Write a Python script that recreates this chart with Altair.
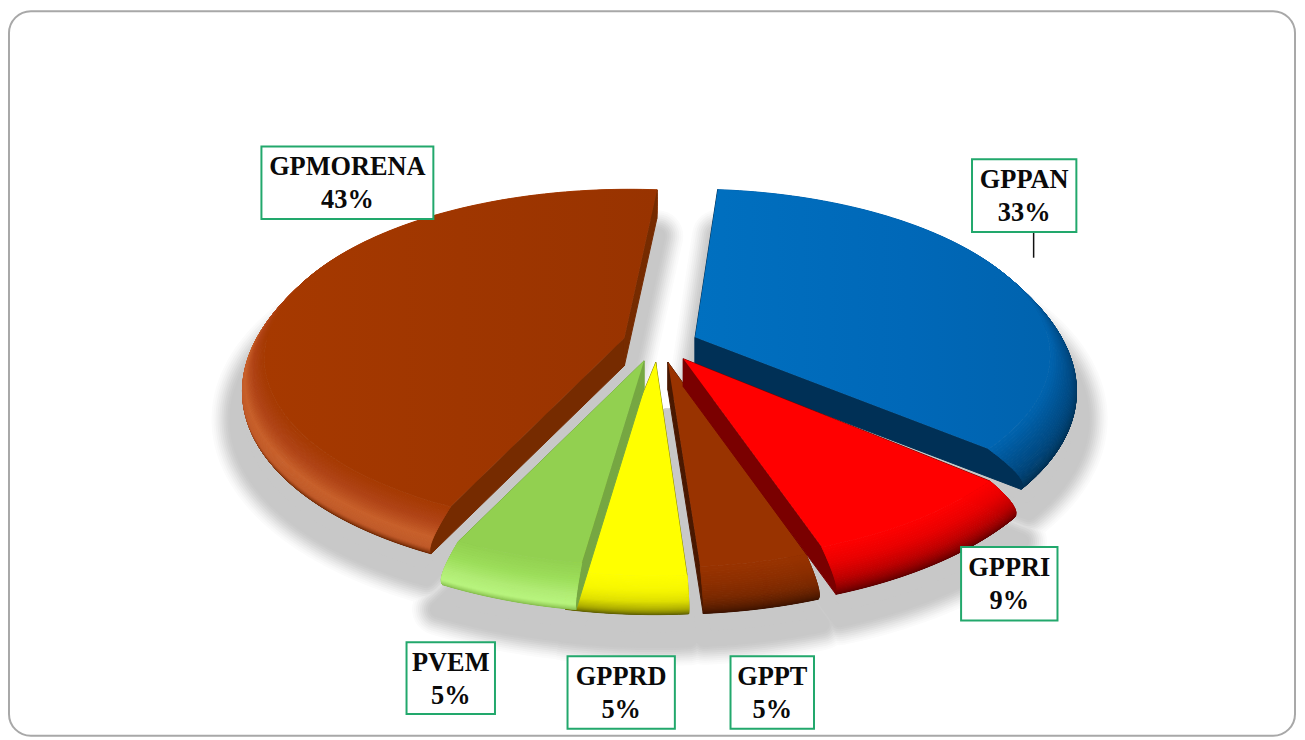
import math
import altair as alt
import pandas as pd

# ---- chart values ----
parties = ["GPPAN", "GPPRI", "GPPT", "GPPRD", "PVEM", "GPMORENA"]
shares = [33, 9, 5, 5, 5, 43]
share_labels = ["33%", "9%", "5%", "5%", "5%", "43%"]

# ---- styles ----
top_fill = ["#0068b8", "#ff0000", "#993300", "#ffff00", "#92d050", "#9c3500"]
wall_fill = ["#003056", "#7a0000", "#4a1800", "#8a8a00", "#76a742", "#762b00"]
rim_stops = [
    ["#002a4c", "#003760", "#00467c", "#005494", "#0064b0"],
    ["#5a0000", "#8a0000", "#c00000", "#e80000", "#ff0000"],
    ["#3a1200", "#5a1d00", "#7a2800", "#8c2e00", "#993300"],
    ["#5c5c00", "#a8a800", "#e0e000", "#f8f800", "#ffff00"],
    ["#84bc4c", "#b8f57e", "#b0ec74", "#9cde5a", "#92d050"],
    ["#6a2400", "#c05a28", "#c8602a", "#b04416", "#a43800"],
]
rim_width = [0.13, 0.10, 0.09, 0.06, 0.09, 0.11]
draw_order = [5, 0, 3, 4, 2, 1]
# small view corrections of each slice's two cut directions, in degrees
view_start = [0, -2, 0, 0, -3.5, -3]
view_end = [-2.5, 0, 0, 0, -2, 0]

# ---- projection of the tilted, exploded disc ----
CX, CY, RX, RY = 664, 345, 385, 181
PY, PX, EXPLODE, DEPTH, ROT = 0.185, 0.17, 0.10, 28, 8.0
WARP = 5.0


def screen_angle(a):
    return a - WARP * math.sin(math.radians(2 * (a - 169)))


def project(u, v, z=0.0):
    return (CX + RX * u / (1 - PX * v), CY + RY * v / (1 - PY * v) + z)


def edge(ap, ang, s, rw, zoff=0.0):
    """rim point at data angle ang; s runs 0 (bottom of the rim) .. 1 (top face)"""
    au, av = ap
    t = math.radians(screen_angle(ang))
    v = -math.cos(t)
    front = min(1.0, max(0.0, 0.55 + 0.45 * v))
    r = 1 - rw * front * s ** 2.0 - 0.02 * (1 - s) ** 3
    z = DEPTH * (1 - s)
    return project(au + r * math.sin(t), av - r * math.cos(t), z + zoff)


def arc_angles(a0, a1):
    n = max(8, int((a1 - a0) / 1.5))
    return [a0 + (a1 - a0) * k / n for k in range(n + 1)]


def top_wedge(ap, a0, a1, rw, zoff=0.0, s=1.0):
    return [project(ap[0], ap[1], zoff)] + [edge(ap, a, s, rw, zoff) for a in arc_angles(a0, a1)]


def mix(cols, s):
    pos = s * (len(cols) - 1)
    i = min(int(pos), len(cols) - 2)
    f = pos - i
    a = [int(cols[i][j:j + 2], 16) for j in (1, 3, 5)]
    b = [int(cols[i + 1][j:j + 2], 16) for j in (1, 3, 5)]
    return "#%02x%02x%02x" % tuple(round(x + (y - x) * f) for x, y in zip(a, b))


angles = []
apexes = []
acc = ROT
for n_, s_ in enumerate(shares):
    a_end = acc + s_ * 3.6
    mid_ = math.radians((acc + a_end) / 2)
    apexes.append((EXPLODE * math.sin(mid_), -EXPLODE * math.cos(mid_)))
    angles.append((acc + view_start[n_], a_end + view_end[n_]))
    acc = a_end

XS = alt.Scale(domain=[8, 1305], nice=False, zero=False)
YS = alt.Scale(domain=[741, 9], nice=False, zero=False)
X = alt.X("x:Q", axis=None, scale=XS)
Y = alt.Y("y:Q", axis=None, scale=YS)

counter = [0]


def rows(polys):
    out = []
    for pid, (pts, fill, extra) in enumerate(polys):
        for x, y in pts + pts[:1]:
            counter[0] += 1
            out.append(dict(x=x, y=y, i=counter[0], poly=pid, col=fill, **extra))
    return pd.DataFrame(out)


def solid(polys):
    return (
        alt.Chart(rows([(p, c, {}) for p, c in polys]))
        .mark_line(strokeWidth=1.0, interpolate="linear", strokeJoin="round")
        .encode(
            x=X, y=Y, order="i:Q", detail="poly:N",
            fill=alt.Fill("col:N", scale=None, legend=None),
            stroke=alt.Stroke("col:N", scale=None, legend=None),
        )
    )


# frame
frame = (
    alt.Chart(pd.DataFrame({"x": [9], "x2": [1303], "y": [10], "y2": [739]}))
    .mark_rect(cornerRadius=22, fill="#ffffff", stroke="#a8a8a8", strokeWidth=2)
    .encode(x=X, x2="x2:Q", y=Y, y2="y2:Q")
)

# soft ground shadow: each wedge, dilated by a stroke, from light to dark
shadow_steps = [(52, "#fbfbfb"), (48, "#f7f7f7"), (44, "#f1f1f1"), (40, "#ebebeb"), (36, "#e4e4e4"),
                (32, "#dddddd"), (28, "#d6d6d6"), (24, "#d0d0d0"), (20, "#cbcbcb"), (16, "#c8c8c8")]
shadow_polys = []
for w, c in shadow_steps:
    for ap, (a0, a1) in zip(apexes, angles):
        shadow_polys.append((top_wedge(ap, a0, a1, 0.0, zoff=48, s=1.0), c, {"sw": w}))
shadow = (
    alt.Chart(rows(shadow_polys))
    .mark_line(strokeJoin="round", interpolate="linear")
    .encode(
        x=X, y=Y, order="i:Q", detail="poly:N",
        fill=alt.Fill("col:N", scale=None, legend=None),
        stroke=alt.Stroke("col:N", scale=None, legend=None),
        strokeWidth=alt.StrokeWidth("sw:Q", scale=None, legend=None),
    )
)

layers = [frame, shadow]
for idx in draw_order:
    a0, a1 = angles[idx]
    rw = rim_width[idx]
    ap = apexes[idx]

    # the two cut faces follow the rim profile
    under, over = [], []
    for ang in (a0, a1):
        poly = [project(ap[0], ap[1], 0)]
        for k in range(9):
            poly.append(edge(ap, ang, 1 - k / 8, rw))
        poly.append(project(ap[0], ap[1], DEPTH))
        (over if math.cos(math.radians(ang)) > 0.5 else under).append((poly, wall_fill[idx]))
    layers.append(solid(under))

    # curved rim, painted as thin strips from its bottom to the top face
    strips = []
    N = 30
    arc = arc_angles(a0, a1)
    for k in range(N):
        s0, s1 = k / N, (k + 1) / N
        outer = [edge(ap, a, s0, rw) for a in arc]
        inner = [edge(ap, a, s1, rw) for a in reversed(arc)]
        strips.append((outer + inner, mix(rim_stops[idx], s0)))
    layers.append(solid(strips))
    if over:
        layers.append(solid(over))

    top = top_wedge(ap, a0, a1, rw)
    df = rows([(top, top_fill[idx], {})])
    if idx == 0:
        fill = alt.Gradient(gradient="linear", x1=0, x2=1, y1=0, y2=0,
                            stops=[alt.GradientStop(offset=0, color="#0070c0"),
                                   alt.GradientStop(offset=0.6, color="#0068b8"),
                                   alt.GradientStop(offset=1, color="#0063ae")])
    elif idx == 5:
        fill = alt.Gradient(gradient="linear", x1=0, x2=1, y1=0, y2=0,
                            stops=[alt.GradientStop(offset=0, color="#a63900"),
                                   alt.GradientStop(offset=1, color="#983300")])
    else:
        fill = top_fill[idx]
    layers.append(
        alt.Chart(df).mark_line(fill=fill, strokeOpacity=0).encode(x=X, y=Y, order="i:Q")
    )

# data labels
box_x0 = [978, 967, 735, 571, 409, 263]
box_x1 = [1083, 1064, 819, 679, 498, 436]
box_y0 = [159, 549, 659, 659, 645, 146]
box_y1 = [232, 623, 732, 732, 717, 219]
lab = pd.DataFrame({
    "name": parties, "pct": share_labels,
    "x": box_x0, "x2": box_x1, "y": box_y0, "y2": box_y1,
})
lab["cx"] = (lab.x + lab.x2) / 2
lab["y_name"] = lab.y + 21
lab["y_pct"] = lab.y + 54

boxes = alt.Chart(lab).mark_rect(fill="#ffffff", stroke="#22a86c", strokeWidth=2).encode(
    x=X, x2="x2:Q", y=Y, y2="y2:Q"
)
font = dict(font="Liberation Serif", fontWeight="bold", fontSize=26.5, color="#0a0a0a", align="center", baseline="middle")
names = alt.Chart(lab).mark_text(**font).encode(x=alt.X("cx:Q", axis=None, scale=XS), y=alt.Y("y_name:Q", axis=None, scale=YS), text="name:N")
pcts = alt.Chart(lab).mark_text(**font).encode(x=alt.X("cx:Q", axis=None, scale=XS), y=alt.Y("y_pct:Q", axis=None, scale=YS), text="pct:N")
leader = alt.Chart(pd.DataFrame({"x": [1040], "y": [233], "y2": [258]})).mark_rule(color="#111111", strokeWidth=1.5).encode(
    x=X, y=Y, y2="y2:Q"
)

chart = (
    alt.layer(*layers, leader, boxes, names, pcts)
    .properties(width=1297, height=732, padding=0, autosize=alt.AutoSizeParams(type="none"), background="#ffffff")
    .configure_view(stroke=None)
)
chart.save("out.html", embed_options={"renderer": "svg", "actions": False})
